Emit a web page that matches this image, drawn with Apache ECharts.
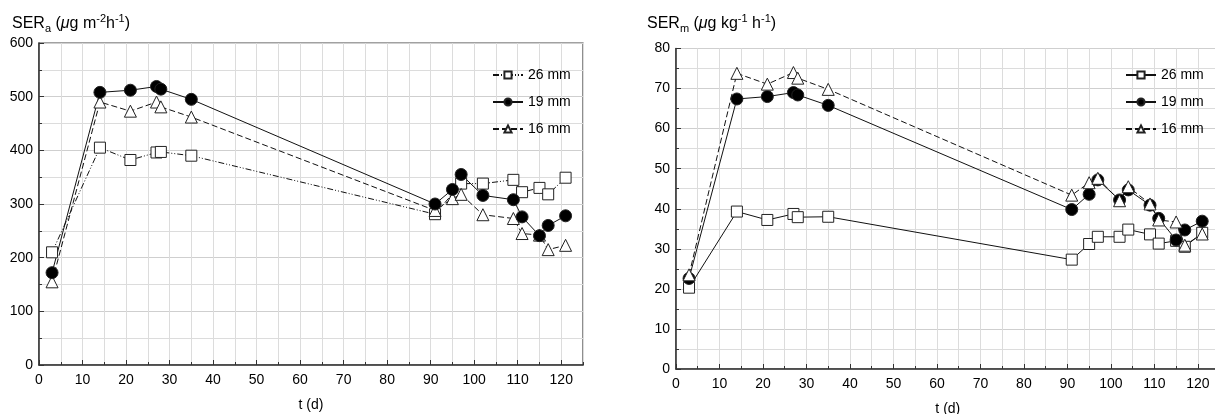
<!DOCTYPE html>
<html>
<head>
<meta charset="utf-8">
<script src="https://cdn.jsdelivr.net/npm/echarts@6/dist/echarts.min.js"></script>
<style>
    html, body { margin: 0; padding: 0; background: #fff; }
    #wrap { position: relative; width: 1215px; height: 414px; overflow: hidden; }
    #leftChart { position: absolute; left: 0; top: 0; width: 620px; height: 414px; }
    #rightChart { position: absolute; left: 620px; top: 0; width: 595px; height: 414px; }
</style>
</head>
<body>
<div id="wrap">
    <div id="leftChart"></div>
    <div id="rightChart"></div>
</div>
<script>
// left panel: SERa
var tA26 = [3, 14, 21, 27, 28, 35, 91, 97, 102, 109, 111, 115, 117, 121];
var serA26 = [210, 405, 382, 396, 397, 390, 281, 338, 338, 345, 322, 330, 318, 349];
var tA19 = [3, 14, 21, 27, 28, 35, 91, 95, 97, 102, 109, 111, 115, 117, 121];
var serA19 = [172, 508, 512, 519, 514, 495, 300, 327, 355, 316, 308, 276, 241, 260, 278];
var tA16 = [3, 14, 21, 27, 28, 35, 91, 95, 97, 102, 109, 111, 115, 117, 121];
var serA16 = [155, 490, 473, 490, 481, 462, 288, 310, 318, 280, 273, 245, 242, 215, 223];

// right panel: SERm
var tM = [3, 14, 21, 27, 28, 35, 91, 95, 97, 102, 104, 109, 111, 115, 117, 121];
var serM26 = [20.3, 39.3, 37.2, 38.7, 37.9, 38.0, 27.3, 31.2, 33.0, 33.0, 34.8, 33.6, 31.3, 32.0, 30.5, 34.0];
var serM19 = [22.6, 67.4, 68.0, 69.0, 68.4, 65.8, 39.8, 43.6, 47.2, 42.2, 44.7, 40.9, 37.6, 32.2, 34.7, 36.9];
var serM16 = [23.5, 73.8, 71.1, 74.0, 72.6, 69.8, 43.4, 46.5, 47.6, 42.0, 45.5, 41.2, 37.2, 36.7, 30.9, 33.7];

var seriesNames = ['26 mm', '19 mm', '16 mm'];
var xTicks = [0, 10, 20, 30, 40, 50, 60, 70, 80, 90, 100, 110, 120];

var FONT = '"Liberation Sans", Arial, Helvetica, sans-serif';

function pairs(xs, ys) {
    return xs.map(function (x, i) { return [x, ys[i]]; });
}

function makeSeries(name, data, symbol, fill, dash, size) {
    return {
        name: name,
        type: 'line',
        data: data,
        symbol: symbol,
        symbolSize: size,
        showSymbol: true,
        animation: false,
        lineStyle: { color: '#111', width: 1, type: dash },
        itemStyle: { color: fill, borderColor: '#222', borderWidth: 1 },
        emphasis: { disabled: true }
    };
}

function makeOption(cfg) {
    var grid = cfg.grid;
    return {
        backgroundColor: '#fff',
        animation: false,
        textStyle: { fontFamily: FONT },
        grid: {
            left: grid.left, top: grid.top, width: grid.width, height: grid.height,
            outerBoundsMode: 'none',
            show: true, borderColor: '#444', borderWidth: 1.2, backgroundColor: 'transparent'
        },
        graphic: [{
            type: 'text',
            left: cfg.titleLeft,
            top: 13,
            style: {
                text: cfg.title,
                fill: '#000',
                rich: {
                    n: { fontSize: 16, lineHeight: 21, fontFamily: FONT, fill: '#000', verticalAlign: 'middle' },
                    i: { fontSize: 16, lineHeight: 21, fontFamily: FONT, fontStyle: 'italic', fill: '#000', verticalAlign: 'middle' },
                    sub: { fontSize: 11, lineHeight: 9, fontFamily: FONT, fill: '#000', verticalAlign: 'bottom' },
                    sup: { fontSize: 11, lineHeight: 12, fontFamily: FONT, fill: '#000', verticalAlign: 'top' }
                }
            }
        }],
        legend: {
            orient: 'vertical',
            left: cfg.legendLeft,
            top: 63,
            itemWidth: 30,
            itemHeight: 9,
            itemGap: 13,
            data: seriesNames,
            selectedMode: false,
            textStyle: { fontSize: 14, color: '#000', fontFamily: FONT }
        },
        xAxis: [{
            type: 'value',
            min: 0,
            max: 125,
            interval: 10,
            name: 't (d)',
            nameLocation: 'middle',
            nameGap: 33,
            nameTextStyle: { fontSize: 14, color: '#000', fontFamily: FONT },
            axisLine: { onZero: false, lineStyle: { color: '#333', width: 1.5 } },
            axisTick: { inside: true, length: 5, lineStyle: { color: '#333' } },
            axisLabel: {
                fontSize: 14, color: '#000', margin: 8, showMaxLabel: false,
                formatter: function (v) { return xTicks.indexOf(v) >= 0 ? String(v) : ''; }
            },
            splitLine: { show: true, lineStyle: { color: '#cfcfcf', width: 1 } }
        }, {
            // minor grid every 5 d
            type: 'value',
            position: 'bottom',
            min: 0,
            max: 125,
            interval: 5,
            axisLine: { show: false },
            axisTick: { inside: true, length: 3, lineStyle: { color: '#333' } },
            axisLabel: { show: false },
            splitLine: { show: true, lineStyle: { color: '#dcdcdc', width: 1 } }
        }],
        yAxis: {
            type: 'value',
            min: 0,
            max: cfg.yMax,
            interval: cfg.yStep,
            axisLine: { show: true, onZero: false, lineStyle: { color: '#333', width: 1.5 } },
            axisTick: { show: true, inside: true, length: 5, lineStyle: { color: '#333' } },
            minorTick: { show: true, splitNumber: 2, length: 3, lineStyle: { color: '#333' } },
            axisLabel: { fontSize: 14, color: '#000', margin: 6 },
            splitLine: { show: true, lineStyle: { color: '#cfcfcf', width: 1 } },
            minorSplitLine: { show: true, lineStyle: { color: '#dcdcdc', width: 1 } }
        },
        series: cfg.series
    };
}

(function () {
    var leftChart = echarts.init(document.getElementById('leftChart'));
    leftChart.setOption(makeOption({
        grid: { left: 39, top: 43, width: 544, height: 322 },
        titleLeft: 12,
        title: '{n|SER}{sub|a}{n| (}{i|μ}{n|g m}{sup|-2}{n|h}{sup|-1}{n|)}',
        legendLeft: 487,
        yMax: 600,
        yStep: 100,
        series: [
            makeSeries('26 mm', pairs(tA26, serA26), 'rect', '#fff', [6, 2, 1, 2, 1, 2], 11),
            makeSeries('16 mm', pairs(tA16, serA16), 'triangle', '#fff', [6, 3], 12),
            makeSeries('19 mm', pairs(tA19, serA19), 'circle', '#000', 'solid', 12)
        ]
    }));

    var rightChart = echarts.init(document.getElementById('rightChart'));
    rightChart.setOption(makeOption({
        grid: { left: 56, top: 48.5, width: 543.6, height: 320.5 },
        titleLeft: 27,
        title: '{n|SER}{sub|m}{n| (}{i|μ}{n|g kg}{sup|-1}{n| h}{sup|-1}{n|)}',
        legendLeft: 500,
        yMax: 80,
        yStep: 10,
        series: [
            makeSeries('26 mm', pairs(tM, serM26), 'rect', '#fff', 'solid', 11),
            makeSeries('19 mm', pairs(tM, serM19), 'circle', '#000', 'solid', 12),
            makeSeries('16 mm', pairs(tM, serM16), 'triangle', '#fff', [6, 3], 12)
        ]
    }));
})();
</script>
</body>
</html>
